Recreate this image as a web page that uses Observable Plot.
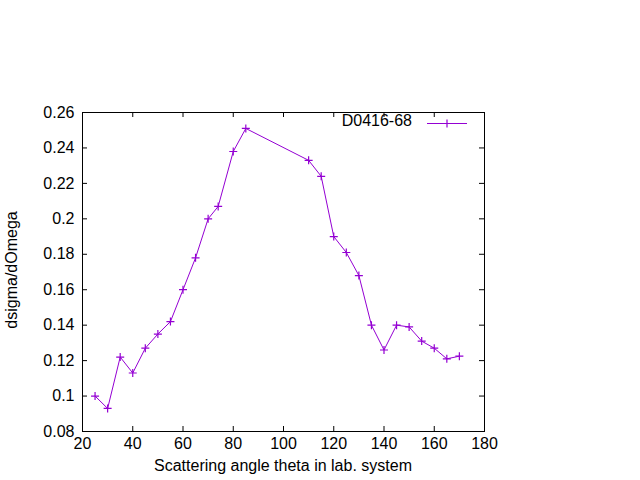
<!DOCTYPE html>
<html>
<head>
<meta charset="utf-8">
<script src="https://cdn.jsdelivr.net/npm/d3@7"></script>
<script src="https://cdn.jsdelivr.net/npm/@observablehq/plot@0.6"></script>
<style>
  html, body { margin: 0; padding: 0; background: #fff; }
  #chart svg { display: block; }
</style>
</head>
<body>
<div id="chart"></div>
<script>
const seriesName = "D0416-68";
const theta = [25, 30, 35, 40, 45, 50, 55, 60, 65, 70, 74, 80, 85, 110, 115, 120, 125, 130, 135, 140, 145, 150, 155, 160, 165, 170];
const dsigma = [0.100, 0.093, 0.122, 0.113, 0.127, 0.135, 0.142, 0.160, 0.178, 0.200, 0.207, 0.238, 0.251, 0.233, 0.224, 0.190, 0.181, 0.168, 0.140, 0.126, 0.140, 0.139, 0.131, 0.127, 0.121, 0.1225];
const xTicks = [20, 40, 60, 80, 100, 120, 140, 160, 180];
const yTicks = [0.08, 0.10, 0.12, 0.14, 0.16, 0.18, 0.20, 0.22, 0.24, 0.26];
const xLabel = "Scattering angle theta in lab. system";
const yLabel = "dsigma/dOmega";

const data = theta.map((t, i) => ({theta: t, value: dsigma[i]}));
const color = "#9400d3";
const fontFamily = "'Liberation Sans', Arial, sans-serif";
const fontSize = 16;
const fmtY = d => String(+d.toFixed(2));

const plusSymbol = {
  draw(ctx, size) {
    const r = Math.sqrt(size / Math.PI);
    ctx.moveTo(-r, 0); ctx.lineTo(r, 0);
    ctx.moveTo(0, -r); ctx.lineTo(0, r);
  }
};

const H = 319;   // frame height in px
const W = 402;   // frame width in px
const tl = 5;    // tick length

const chart = Plot.plot({
  width: 640,
  height: 480,
  marginLeft: 82,
  marginRight: 156,
  marginTop: 112,
  marginBottom: 49,
  style: {fontFamily, fontSize: fontSize + "px", color: "#000", background: "#fff"},
  x: {domain: [20, 180], ticks: xTicks},
  y: {domain: [0.08, 0.26], ticks: yTicks},
  marks: [
    Plot.axisX(xTicks, {tickSize: 0, tickPadding: 6, tickFormat: d => String(d), fontSize, label: null}),
    Plot.axisY(yTicks, {tickSize: 0, tickPadding: 8, tickFormat: fmtY, fontSize, label: null}),
    Plot.tickX(xTicks, {x: d => d, insetTop: H - tl, stroke: "#000"}),
    Plot.tickX(xTicks, {x: d => d, insetBottom: H - tl, stroke: "#000"}),
    Plot.tickY(yTicks, {y: d => d, insetRight: W - tl, stroke: "#000"}),
    Plot.tickY(yTicks, {y: d => d, insetLeft: W - tl, stroke: "#000"}),
    Plot.frame({stroke: "#000"}),
    Plot.line(data, {x: "theta", y: "value", stroke: color, strokeWidth: 1}),
    Plot.dot(data, {x: "theta", y: "value", symbol: plusSymbol, r: 4, stroke: color, strokeWidth: 1.2, fill: "none"})
  ]
});

const svg = d3.select(chart);
// axis titles
svg.append("text")
  .attr("x", 283).attr("y", 467)
  .attr("text-anchor", "middle").attr("dominant-baseline", "middle")
  .attr("font-family", fontFamily).attr("font-size", fontSize)
  .attr("fill", "#000")
  .text(xLabel);
svg.append("text")
  .attr("transform", "translate(13,270) rotate(-90)")
  .attr("text-anchor", "middle").attr("dominant-baseline", "middle")
  .attr("font-family", fontFamily).attr("font-size", fontSize)
  .attr("fill", "#000")
  .text(yLabel);
// legend
const lg = svg.append("g");
lg.append("text")
  .attr("x", 412).attr("y", 122)
  .attr("text-anchor", "end").attr("dominant-baseline", "middle")
  .attr("font-family", fontFamily).attr("font-size", fontSize)
  .attr("fill", "#000")
  .text(seriesName);
lg.append("line").attr("x1", 427).attr("x2", 467).attr("y1", 123.5).attr("y2", 123.5)
  .attr("stroke", color).attr("stroke-width", 1);
lg.append("path").attr("d", "M443,123.5h8M447,119.5v8")
  .attr("stroke", color).attr("stroke-width", 1.2).attr("fill", "none");

document.getElementById("chart").appendChild(chart);
</script>
</body>
</html>
